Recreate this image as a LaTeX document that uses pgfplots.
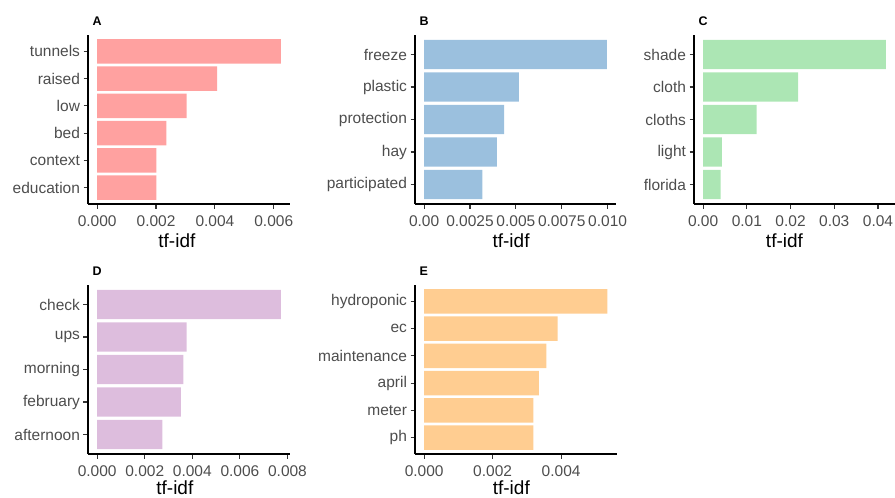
\documentclass[border=0pt]{standalone}
\usepackage{pgfplots}
\pgfplotsset{compat=1.18}
\usepackage{fontspec}
\setmainfont{Liberation Sans}
\definecolor{cA}{RGB}{255,161,160}
\definecolor{cB}{RGB}{155,192,222}
\definecolor{cC}{RGB}{172,230,180}
\definecolor{cD}{RGB}{221,189,221}
\definecolor{cE}{RGB}{255,205,145}
\definecolor{gtxt}{RGB}{77,77,77}
\definecolor{gtick}{RGB}{51,51,51}
\pgfplotsset{
  tfpanel/.style={
    scale only axis, height=169pt,
    xbar, bar width=0.9,
    axis x line*=bottom, axis y line*=left,
    axis line style={black, line width=1.5pt, -},
    tick align=outside, major tick length=4.5pt,
    tick style={gtick, line width=1.1pt},
    ticklabel style={font=\fontsize{15.5}{18}\selectfont, text=gtxt},
    xticklabel style={yshift=-4pt},
    scaled x ticks=false,
    xlabel={tf-idf},
    xlabel style={font=\fontsize{19}{22}\selectfont, anchor=base, text=black, inner sep=0pt},
    every axis title shift=0pt,
    title style={at={(axis description cs:0,1)}, anchor=base west, inner sep=0pt,
      xshift=4.5pt, yshift=9.5pt, font=\bfseries\fontsize{12.5}{15}\selectfont},
    ytick={1,...,6},
    enlargelimits=false,
    clip=false,
    every axis plot/.append style={draw=none},
  }
}
\begin{document}
\begin{tikzpicture}
\path[use as bounding box] (0,0) rectangle (895pt,-498pt);
% A
\begin{axis}[tfpanel, at={(88pt,-204pt)}, anchor=south west, width=202pt,
  title={A},
  xmin=-0.000312, xmax=0.006552, ymin=0.4, ymax=6.6,
  xtick={0,0.002,0.004,0.006}, xticklabels={0.000,0.002,0.004,0.006},
  yticklabels={education,context,bed,low,raised,tunnels},
  xlabel style={at={(axis description cs:0.44,0)}, yshift=-43pt}]
\addplot[fill=cA] coordinates {(0.00201,1) (0.00201,2) (0.00235,3) (0.00304,4) (0.00408,5) (0.00624,6)};
\end{axis}
% B
\begin{axis}[tfpanel, at={(415pt,-204pt)}, anchor=south west, width=201pt,
  title={B},
  xmin=-0.000498, xmax=0.010458, ymin=0.4, ymax=5.6,
  xtick={0,0.0025,0.005,0.0075,0.01}, xticklabels={0.00,0.0025,0.005,0.0075,0.010},
  ytick={1,...,5},
  yticklabels={participated,hay,protection,plastic,freeze},
  xlabel style={at={(axis description cs:0.478,0)}, yshift=-43pt}]
\addplot[fill=cB] coordinates {(0.00318,1) (0.00396,2) (0.00436,3) (0.00516,4) (0.00996,5)};
\end{axis}
% C
\begin{axis}[tfpanel, at={(694pt,-204pt)}, anchor=south west, width=201pt,
  title={C},
  xmin=-0.00209, xmax=0.04389, ymin=0.4, ymax=5.6,
  xtick={0,0.01,0.02,0.03,0.04}, xticklabels={0.00,0.01,0.02,0.03,0.04},
  ytick={1,...,5},
  yticklabels={florida,light,cloths,cloth,shade},
  xlabel style={at={(axis description cs:0.45,0)}, yshift=-43pt}]
\addplot[fill=cC] coordinates {(0.0040,1) (0.0043,2) (0.01225,3) (0.0217,4) (0.0418,5)};
\end{axis}
% D
\begin{axis}[tfpanel, at={(88pt,-454pt)}, anchor=south west, width=202pt,
  title={D},
  xmin=-0.000386, xmax=0.008106, ymin=0.4, ymax=5.6,
  xtick={0,0.002,0.004,0.006,0.008}, xticklabels={0.000,0.002,0.004,0.006,0.008},
  ytick={1,...,5},
  yticklabels={afternoon,february,morning,ups,check},
  xlabel style={at={(axis description cs:0.43,0)}, yshift=-40pt}]
\addplot[fill=cD] coordinates {(0.00274,1) (0.00352,2) (0.00362,3) (0.00376,4) (0.00772,5)};
\end{axis}
% E
\begin{axis}[tfpanel, at={(415pt,-454pt)}, anchor=south west, width=201.5pt,
  title={E},
  xmin=-0.0002675, xmax=0.0056175, ymin=0.4, ymax=6.6,
  xtick={0,0.002,0.004}, xticklabels={0.000,0.002,0.004},
  yticklabels={ph,meter,april,maintenance,ec,hydroponic},
  xlabel style={at={(axis description cs:0.478,0)}, yshift=-40pt}]
\addplot[fill=cE] coordinates {(0.00319,1) (0.00319,2) (0.00335,3) (0.00357,4) (0.0039,5) (0.00535,6)};
\end{axis}
\end{tikzpicture}
\end{document}
